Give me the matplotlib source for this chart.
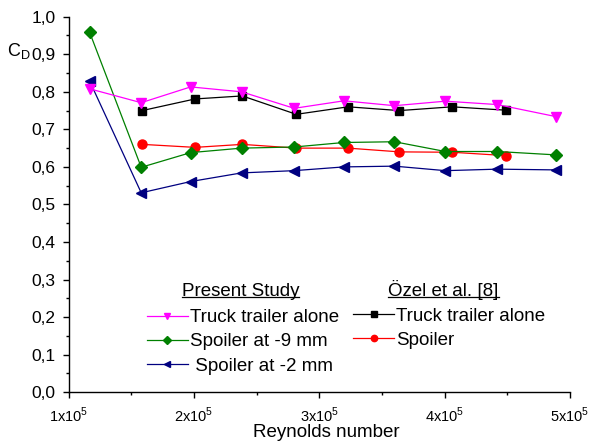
import matplotlib
matplotlib.use("Agg")
import matplotlib.pyplot as plt
from matplotlib.lines import Line2D
from matplotlib.ticker import MultipleLocator

plt.rcParams['font.family'] = ['Liberation Sans', 'DejaVu Sans']

# --- data ---
re_present = [1.168e5, 1.58e5, 1.974e5, 2.38e5, 2.80e5, 3.197e5, 3.60e5, 4.006e5, 4.42e5, 4.887e5]
cd_truck = [0.808, 0.771, 0.813, 0.800, 0.756, 0.776, 0.763, 0.775, 0.766, 0.734]
cd_spoiler_9 = [0.959, 0.599, 0.638, 0.650, 0.653, 0.665, 0.667, 0.641, 0.641, 0.632]
cd_spoiler_2 = [0.829, 0.531, 0.561, 0.584, 0.590, 0.600, 0.602, 0.590, 0.594, 0.592]

re_ozel = [1.588e5, 2.01e5, 2.386e5, 2.817e5, 3.23e5, 3.64e5, 4.06e5, 4.49e5]
cd_ozel_truck = [0.750, 0.781, 0.789, 0.740, 0.760, 0.750, 0.760, 0.751]
cd_ozel_spoiler = [0.660, 0.652, 0.660, 0.650, 0.650, 0.640, 0.639, 0.630]

x_ticks = [1e5, 2e5, 3e5, 4e5, 5e5]
x_ticklabels = [r"1x10$^{\mathregular{5}}$", r"2x10$^{\mathregular{5}}$", r"3x10$^{\mathregular{5}}$",
                r"4x10$^{\mathregular{5}}$", r"5x10$^{\mathregular{5}}$"]
y_ticks = [0.0, 0.1, 0.2, 0.3, 0.4, 0.5, 0.6, 0.7, 0.8, 0.9, 1.0]
y_ticklabels = ["0,0", "0,1", "0,2", "0,3", "0,4", "0,5", "0,6", "0,7", "0,8", "0,9", "1,0"]

W, H = 590, 443
fig = plt.figure(figsize=(W / 100, H / 100), dpi=100)
ax = fig.add_axes([68.5 / W, 1 - 392.2 / H, (570 - 68.5) / W, (392.2 - 16.7) / H])

lw = 0.9
l_ozel_sp, = ax.plot(re_ozel, cd_ozel_spoiler, color='#ff0000', marker='o', ms=6.5, lw=lw)
l_ozel_tr, = ax.plot(re_ozel, cd_ozel_truck, color='black', marker='s', ms=5.5, lw=lw)
l_sp9, = ax.plot(re_present, cd_spoiler_9, color='#008000', marker='D', ms=6, lw=lw)
l_sp2, = ax.plot(re_present, cd_spoiler_2, color='#000080', marker='<', ms=7, lw=lw)
l_tr, = ax.plot(re_present, cd_truck, color='#ff00ff', marker='v', ms=7, lw=lw)

ax.set_xlim(1e5, 5e5)
ax.set_ylim(0, 1.0)
ax.set_xticks(x_ticks)
ax.set_xticklabels(x_ticklabels, fontsize=10.5)
ax.set_yticks(y_ticks)
ax.set_yticklabels(y_ticklabels, fontsize=12.5)
ax.xaxis.set_minor_locator(MultipleLocator(0.5e5))
ax.yaxis.set_minor_locator(MultipleLocator(0.05))
ax.tick_params(which='major', direction='out', length=4.5, width=1.0, pad=5)
ax.tick_params(which='minor', direction='out', length=2.3, width=1.0)
ax.spines['top'].set_visible(False)
ax.spines['right'].set_visible(False)
for s in ('left', 'bottom'):
    ax.spines[s].set_linewidth(1.0)

ax.set_xlabel("Reynolds number", fontsize=13.5)
ax.xaxis.set_label_coords(0.515, -0.085)
fig.text(7 / W, 1 - 56 / H, r"C$_{\mathregular{D}}$", fontsize=13, va='baseline', ha='left')

# legends
leg_kw = dict(frameon=False, fontsize=13.5, handlelength=2.2, handletextpad=0.1,
              labelspacing=0.38, borderpad=0, borderaxespad=0, markerscale=0.7,
              bbox_transform=fig.transFigure, loc='upper left')
leg1 = ax.legend([l_tr, l_sp9, l_sp2], ["Truck trailer alone", "Spoiler at -9 mm", " Spoiler at -2 mm"],
                 bbox_to_anchor=(146.7 / W, 1 - 309 / H), **leg_kw)
ax.add_artist(leg1)
ax.legend([l_ozel_tr, l_ozel_sp], ["Truck trailer alone", "Spoiler"],
          bbox_to_anchor=(353 / W, 1 - 307.5 / H), **leg_kw)

# underlined headers
headers = [("Present Study", 181.7, 295.5), ("Özel et al. [8]", 388.3, 295.5)]
fig.canvas.draw()
for txt, hx, hy in headers:
    t = fig.text(hx / W, 1 - hy / H, txt, fontsize=13.5, va='baseline', ha='left')
    bb = t.get_window_extent(renderer=fig.canvas.get_renderer())
    uy = 1 - (hy + 1.5) / H
    fig.add_artist(Line2D([bb.x0 / W, bb.x1 / W], [uy, uy], color='black', lw=0.9,
                          transform=fig.transFigure))

fig.savefig("out.png", dpi=100)
